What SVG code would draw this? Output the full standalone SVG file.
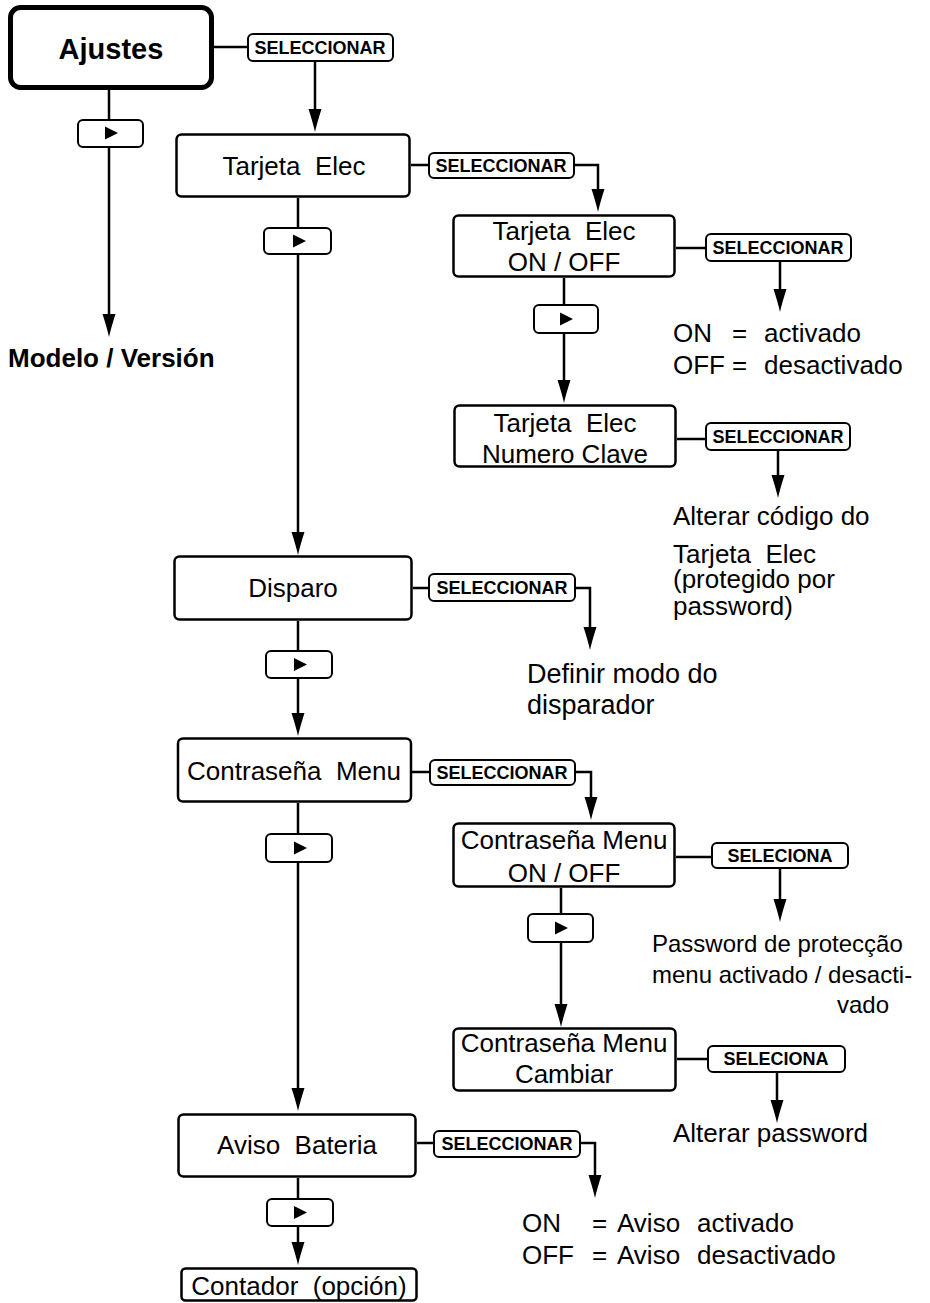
<svg xmlns="http://www.w3.org/2000/svg" width="930" height="1303" viewBox="0 0 930 1303">
<style>
.box{fill:#fff;stroke:#000;stroke-width:2.5}
.btn{fill:#fff;stroke:#000;stroke-width:2}
.con{fill:none;stroke:#000;stroke-width:2.5}
.t{font-family:"Liberation Sans",Arial,sans-serif;font-size:26px;fill:#000}
.tm{text-anchor:middle}
.s{font-family:"Liberation Sans",Arial,sans-serif;font-size:18px;font-weight:bold;text-anchor:middle;fill:#000}
.b{font-weight:bold}
.tri{fill:#000}
</style>
<defs>
<marker id="ah" viewBox="-24 -8 26 16" markerWidth="26" markerHeight="16" refX="-12" refY="0" orient="auto" markerUnits="userSpaceOnUse">
<path d="M-23,-6.5 Q-9,-2 0,0 Q-9,2 -23,6.5 Z" fill="#000"/>
</marker>
</defs>
<rect width="930" height="1303" fill="#fff"/>
<g id="connectors">
<line class="con" x1="214" y1="47" x2="247" y2="47"/>
<line class="con" x1="315" y1="61" x2="315" y2="120" marker-end="url(#ah)"/>
<line class="con" x1="109" y1="90" x2="109" y2="119"/>
<line class="con" x1="109" y1="147" x2="109" y2="325" marker-end="url(#ah)"/>
<line class="con" x1="411" y1="165" x2="428" y2="165"/>
<path class="con" d="M574,165 H598 V200" marker-end="url(#ah)"/>
<line class="con" x1="298" y1="198" x2="298" y2="227"/>
<line class="con" x1="298" y1="254" x2="298" y2="543" marker-end="url(#ah)"/>
<line class="con" x1="676" y1="248" x2="705" y2="248"/>
<line class="con" x1="780" y1="261" x2="780" y2="300" marker-end="url(#ah)"/>
<line class="con" x1="564" y1="278" x2="564" y2="304"/>
<line class="con" x1="564" y1="333" x2="564" y2="391" marker-end="url(#ah)"/>
<line class="con" x1="677" y1="439" x2="705" y2="439"/>
<line class="con" x1="778" y1="450" x2="778" y2="486" marker-end="url(#ah)"/>
<line class="con" x1="413" y1="588" x2="428" y2="588"/>
<path class="con" d="M575,588 H590 V638" marker-end="url(#ah)"/>
<line class="con" x1="298" y1="621" x2="298" y2="650"/>
<line class="con" x1="298" y1="678" x2="298" y2="724" marker-end="url(#ah)"/>
<line class="con" x1="412" y1="772" x2="429" y2="772"/>
<path class="con" d="M575,772 H591 V808" marker-end="url(#ah)"/>
<line class="con" x1="298" y1="803" x2="298" y2="833"/>
<line class="con" x1="298" y1="862" x2="298" y2="1099" marker-end="url(#ah)"/>
<line class="con" x1="676" y1="857" x2="711" y2="857"/>
<line class="con" x1="780" y1="868" x2="780" y2="910" marker-end="url(#ah)"/>
<line class="con" x1="561" y1="888" x2="561" y2="913"/>
<line class="con" x1="561" y1="942" x2="561" y2="1015" marker-end="url(#ah)"/>
<line class="con" x1="677" y1="1059" x2="707" y2="1059"/>
<line class="con" x1="777" y1="1072" x2="777" y2="1111" marker-end="url(#ah)"/>
<line class="con" x1="417" y1="1143" x2="433" y2="1143"/>
<path class="con" d="M580,1143 H595 V1186" marker-end="url(#ah)"/>
<line class="con" x1="298" y1="1178" x2="298" y2="1198"/>
<line class="con" x1="298" y1="1226" x2="298" y2="1253" marker-end="url(#ah)"/>
</g>
<g id="ajustes">
<rect x="10.5" y="7.5" width="201" height="80" rx="10" fill="#fff" stroke="#000" stroke-width="5"/>
<text class="t tm b" x="111" y="59" style="font-size:29px">Ajustes</text>
</g>
<g id="btn-sel-1"><rect class="btn" x="248" y="34" width="145" height="27" rx="5"/><text class="s" x="320" y="54">SELECCIONAR</text></g>
<g id="btn-next-1"><rect class="btn" x="78" y="120" width="65" height="27" rx="5"/><polygon class="tri" points="105,126.5 118,133 105,139.5"/></g>
<g id="modelo"><text class="t b" x="8" y="367">Modelo / Versión</text></g>
<g id="tarjeta">
<rect class="box" x="176.5" y="134.5" width="233" height="62" rx="5"/>
<text class="t tm" x="294" y="175" xml:space="preserve">Tarjeta  Elec</text>
</g>
<g id="btn-sel-2"><rect class="btn" x="429" y="153" width="145" height="25" rx="5"/><text class="s" x="501" y="172">SELECCIONAR</text></g>
<g id="btn-next-2"><rect class="btn" x="264" y="228" width="67" height="26" rx="5"/><polygon class="tri" points="293,234.5 306,241 293,247.5"/></g>
<g id="tarjeta-onoff">
<rect class="box" x="453.5" y="215.5" width="221" height="61" rx="5"/>
<text class="t tm" x="564" y="240" xml:space="preserve">Tarjeta  Elec</text>
<text class="t tm" x="564" y="271">ON / OFF</text>
</g>
<g id="btn-sel-3"><rect class="btn" x="706" y="234" width="145" height="27" rx="5"/><text class="s" x="778" y="254">SELECCIONAR</text></g>
<g id="onoff-desc"><text class="t" y="342"><tspan x="673">ON</tspan><tspan x="732">=</tspan><tspan x="764">activado</tspan></text><text class="t" y="374"><tspan x="673">OFF</tspan><tspan x="732">=</tspan><tspan x="764">desactivado</tspan></text></g>
<g id="btn-next-3"><rect class="btn" x="534" y="305" width="64" height="28" rx="5"/><polygon class="tri" points="560,312.5 573,319 560,325.5"/></g>
<g id="tarjeta-clave">
<rect class="box" x="454.5" y="405.5" width="221" height="61" rx="5"/>
<text class="t tm" x="565" y="432" xml:space="preserve">Tarjeta  Elec</text>
<text class="t tm" x="565" y="463">Numero Clave</text>
</g>
<g id="btn-sel-4"><rect class="btn" x="706" y="423" width="144" height="27" rx="5"/><text class="s" x="778" y="443">SELECCIONAR</text></g>
<g id="clave-desc">
<text class="t" x="673" y="525">Alterar código do</text>
<text class="t" xml:space="preserve"><tspan x="673" y="563">Tarjeta  Elec</tspan><tspan x="673" y="588">(protegido por</tspan><tspan x="673" y="615">password)</tspan></text>
</g>
<g id="disparo">
<rect class="box" x="174.5" y="556.5" width="237" height="63" rx="5"/>
<text class="t tm" x="293" y="597">Disparo</text>
</g>
<g id="btn-sel-5"><rect class="btn" x="429" y="574" width="146" height="27" rx="5"/><text class="s" x="502" y="594">SELECCIONAR</text></g>
<g id="disparo-desc">
<text class="t" x="527" y="683" style="font-size:27px">Definir modo do</text>
<text class="t" x="527" y="714" style="font-size:27px">disparador</text>
</g>
<g id="btn-next-4"><rect class="btn" x="266" y="651" width="66" height="27" rx="5"/><polygon class="tri" points="294,658 307,664.5 294,671"/></g>
<g id="contrasena">
<rect class="box" x="178" y="738.5" width="233" height="63" rx="5"/>
<text class="t tm" x="294" y="780" xml:space="preserve">Contraseña  Menu</text>
</g>
<g id="btn-sel-6"><rect class="btn" x="430" y="760" width="145" height="25" rx="5"/><text class="s" x="502" y="779">SELECCIONAR</text></g>
<g id="btn-next-5"><rect class="btn" x="266" y="834" width="66" height="28" rx="5"/><polygon class="tri" points="294,841.5 307,848 294,854.5"/></g>
<g id="contrasena-onoff">
<rect class="box" x="453.5" y="823.5" width="221" height="63" rx="5"/>
<text class="t tm" x="564" y="849">Contraseña Menu</text>
<text class="t tm" x="564" y="882">ON / OFF</text>
</g>
<g id="btn-selec-1"><rect class="btn" x="712" y="843" width="136" height="25" rx="5"/><text class="s" x="780" y="862">SELECIONA</text></g>
<g id="contrasena-desc">
<text class="t" x="652" y="952" style="font-size:24px">Password de protecção</text>
<text class="t" x="652" y="983" style="font-size:24px">menu activado / desacti-</text>
<text class="t" x="837" y="1013" style="font-size:24px">vado</text>
</g>
<g id="btn-next-6"><rect class="btn" x="528" y="914" width="65" height="28" rx="5"/><polygon class="tri" points="555,921.5 568,928 555,934.5"/></g>
<g id="contrasena-cambiar">
<rect class="box" x="453.5" y="1028.5" width="222" height="62" rx="5"/>
<text class="t tm" x="564" y="1052">Contraseña Menu</text>
<text class="t tm" x="564" y="1083">Cambiar</text>
</g>
<g id="btn-selec-2"><rect class="btn" x="708" y="1046" width="137" height="26" rx="5"/><text class="s" x="776" y="1065">SELECIONA</text></g>
<g id="cambiar-desc"><text class="t" x="673" y="1142">Alterar password</text></g>
<g id="aviso">
<rect class="box" x="178.5" y="1114.5" width="237" height="62" rx="5"/>
<text class="t tm" x="297" y="1154" xml:space="preserve">Aviso  Bateria</text>
</g>
<g id="btn-sel-7"><rect class="btn" x="434" y="1131" width="146" height="26" rx="5"/><text class="s" x="507" y="1150">SELECCIONAR</text></g>
<g id="aviso-desc"><text class="t" y="1232"><tspan x="522">ON</tspan><tspan x="592">=</tspan><tspan x="617">Aviso</tspan><tspan x="697">activado</tspan></text><text class="t" y="1264"><tspan x="522">OFF</tspan><tspan x="592">=</tspan><tspan x="617">Aviso</tspan><tspan x="697">desactivado</tspan></text></g>
<g id="btn-next-7"><rect class="btn" x="267" y="1199" width="66" height="27" rx="5"/><polygon class="tri" points="294,1206 307,1212.5 294,1219"/></g>
<g id="contador">
<rect class="box" x="181.5" y="1268.5" width="235" height="32" rx="4"/>
<text class="t tm" x="299" y="1295" xml:space="preserve">Contador  (opción)</text>
</g>
</svg>
